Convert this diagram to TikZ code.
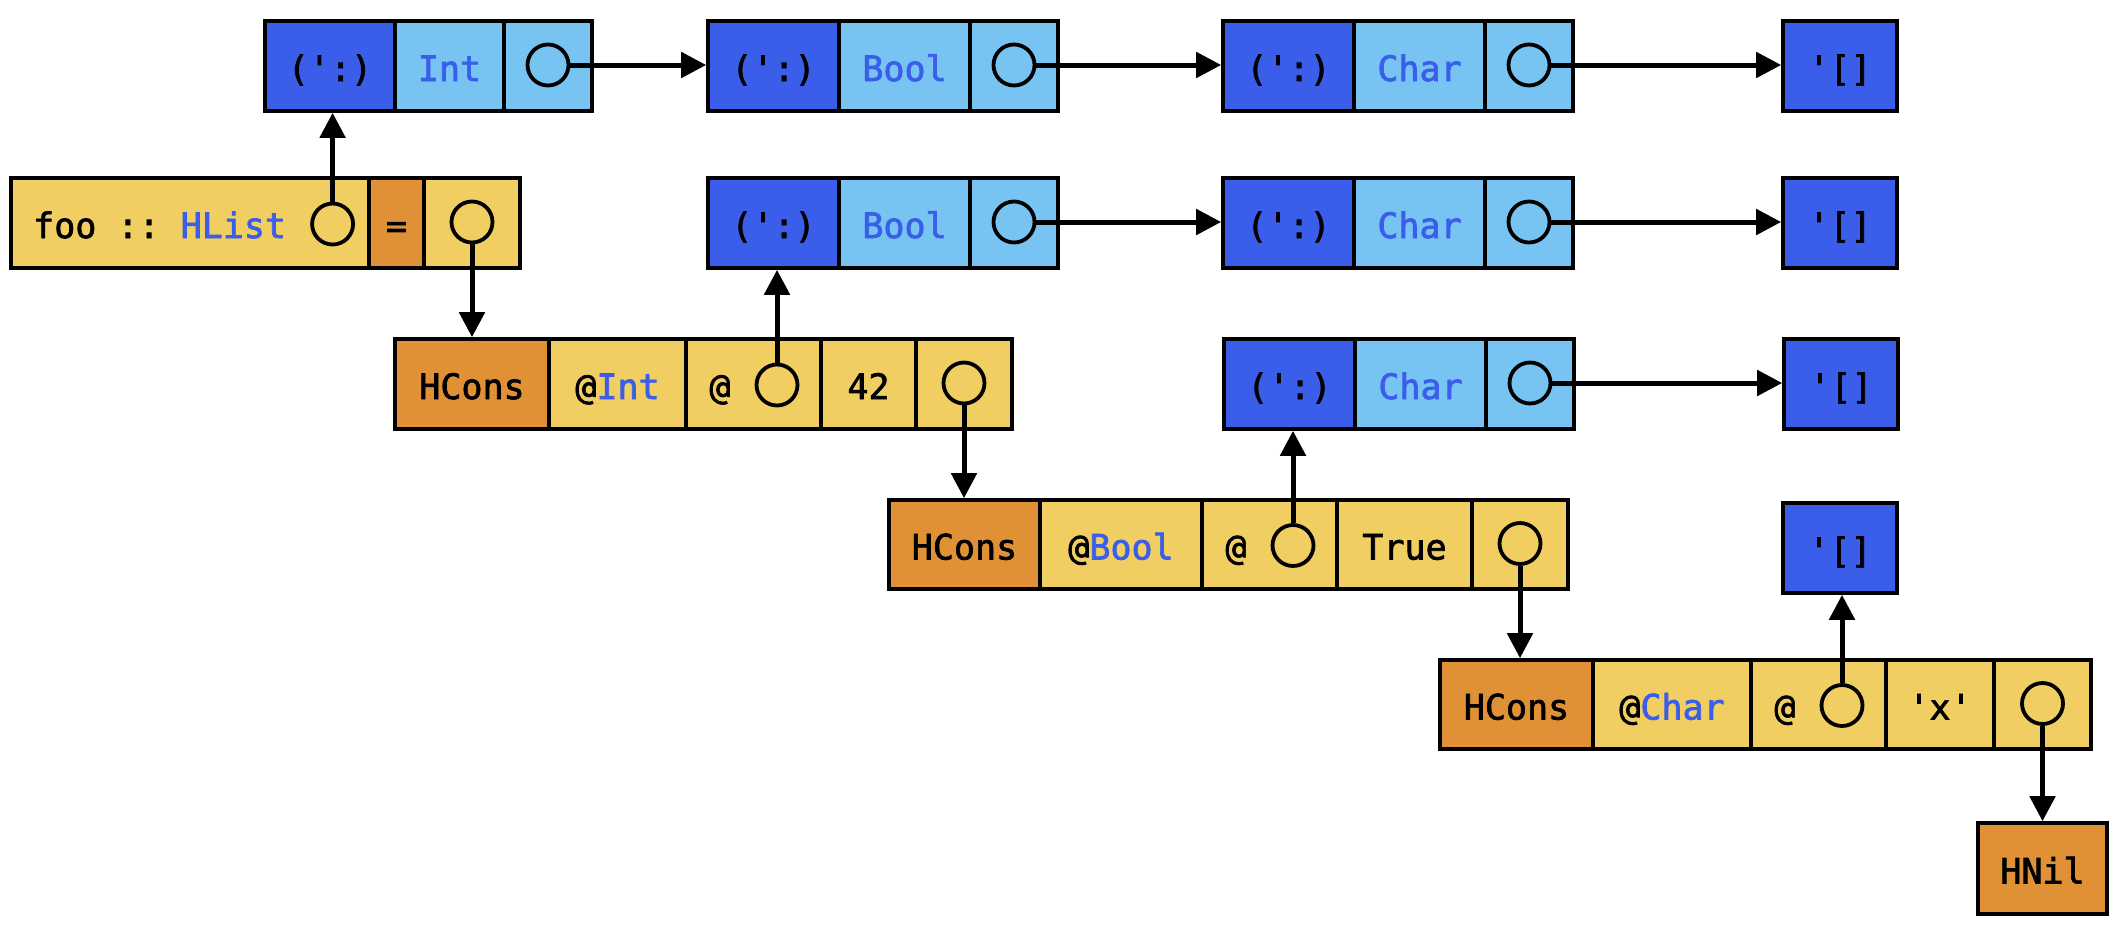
\documentclass[tikz,border=0pt]{standalone}
\usepackage{fontspec}
\setmonofont{DejaVu Sans Mono}[FakeBold=2]
\usetikzlibrary{arrows.meta}
\definecolor{dblue}{HTML}{3A5EE9}
\definecolor{lblue}{HTML}{77C3F2}
\definecolor{hyellow}{HTML}{F0CE62}
\definecolor{horange}{HTML}{E09135}
\definecolor{tblue}{HTML}{3A5EE9}
\tikzset{
  lbl/.style={inner sep=0pt, text height=30pt, text depth=0pt,
    font=\fontsize{35}{40}\selectfont\ttfamily},
  cell/.style={lbl, draw, line width=3.6pt, minimum height=90pt},
  ptr/.style={circle, draw, line width=3.8pt, minimum size=41pt, inner sep=0pt},
  link/.style={line width=5pt, -{Triangle[length=25pt,width=25pt]}},
  consA/.style={cell, fill=dblue, minimum width=131pt},
  consB/.style={cell, fill=lblue, minimum width=131pt, text=tblue},
  consC/.style={cell, fill=lblue, minimum width=88pt},
  nilbox/.style={cell, fill=dblue, minimum width=114pt},
  ycell/.style={cell, fill=hyellow},
  ocell/.style={cell, fill=horange}
}
\begin{document}
\begin{tikzpicture}[x=1pt,y=-1pt]
\useasboundingbox (0,0) rectangle (2122,930);
% ---------- row 1 ----------
\node[consA, minimum width=130pt] (a1) at (330,66) {(':)};
\node[consB, minimum width=109pt] (a2) at (449.5,66) {Int};
\node[consC] (a3) at (548,66) {};
\node[ptr] (a3p) at ([yshift=1pt]a3.center) {};
\node[consA] (b1) at (773.5,66) {(':)};
\node[consB] (b2) at (904.5,66) {Bool};
\node[consC] (b3) at (1014,66) {};
\node[ptr] (b3p) at ([yshift=1pt]b3.center) {};
\node[consA] (c1) at (1288.5,66) {(':)};
\node[consB] (c2) at (1419.5,66) {Char};
\node[consC] (c3) at (1529,66) {};
\node[ptr] (c3p) at ([yshift=1pt]c3.center) {};
\node[nilbox] (n1) at (1840,66) {'[]};
% ---------- row 2 ----------
\node[ycell, minimum width=358pt] (f1) at (190,223) {};
\node[lbl, anchor=west, text=black] (ftxt) at (33,223) {foo :: \textcolor{tblue}{HList}};
\node[ptr] (fp1) at (332.6,224) {};
\node[ocell, minimum width=55pt] (f2) at (396.5,223) {=};
\node[ycell, minimum width=96pt] (f3) at (472,223) {};
\node[ptr] (fp2) at ([yshift=1pt]f3.center) {};
\node[consA] (bb1) at (773.5,223) {(':)};
\node[consB] (bb2) at (904.5,223) {Bool};
\node[consC] (bb3) at (1014,223) {};
\node[ptr] (bb3p) at ([yshift=1pt]bb3.center) {};
\node[consA] (cc1) at (1288.5,223) {(':)};
\node[consB] (cc2) at (1419.5,223) {Char};
\node[consC] (cc3) at (1529,223) {};
\node[ptr] (cc3p) at ([yshift=1pt]cc3.center) {};
\node[nilbox] (n2) at (1840,223) {'[]};
% ---------- row 3 ----------
\node[ocell, minimum width=154pt] (h1) at (472,384) {HCons};
\node[ycell, minimum width=137pt] (h2) at (617.5,384) {@\textcolor{tblue}{Int}};
\node[ycell, minimum width=135pt] (h3) at (753.5,384) {};
\node[lbl] (h3at) at (720,384) {@};
\node[ptr] (hp3) at (777,385) {};
\node[ycell, minimum width=95pt] (h4) at (868.5,384) {42};
\node[ycell, minimum width=96pt] (h5) at (964,384) {};
\node[ptr] (hp5) at ([yshift=1pt]h5.center) {};
\node[consA] (ccc1) at (1289.5,384) {(':)};
\node[consB] (ccc2) at (1420.5,384) {Char};
\node[consC] (ccc3) at (1530,384) {};
\node[ptr] (ccc3p) at ([yshift=1pt]ccc3.center) {};
\node[nilbox] (n3) at (1841,384) {'[]};
% ---------- row 4 ----------
\node[ocell, minimum width=151pt, minimum height=89pt] (g1) at (964.5,544.5) {HCons};
\node[ycell, minimum width=162pt, minimum height=89pt] (g2) at (1121,544.5) {@\textcolor{tblue}{Bool}};
\node[ycell, minimum width=135pt, minimum height=89pt] (g3) at (1269.5,544.5) {};
\node[lbl] (g3at) at (1236,544.5) {@};
\node[ptr] (gp3) at (1293,545.5) {};
\node[ycell, minimum width=135pt, minimum height=89pt] (g4) at (1404.5,544.5) {True};
\node[ycell, minimum width=96pt, minimum height=89pt] (g5) at (1520,544.5) {};
\node[ptr] (gp5) at ([yshift=1pt]g5.center) {};
\node[nilbox] (n4) at (1840,548) {'[]};
% ---------- row 5 ----------
\node[ocell, minimum width=153pt, minimum height=89pt] (k1) at (1516.5,704.5) {HCons};
\node[ycell, minimum width=158pt, minimum height=89pt] (k2) at (1672,704.5) {@\textcolor{tblue}{Char}};
\node[ycell, minimum width=135pt, minimum height=89pt] (k3) at (1818.5,704.5) {};
\node[lbl] (k3at) at (1785,704.5) {@};
\node[ptr] (kp3) at (1842,705.5) {};
\node[ycell, minimum width=108pt, minimum height=89pt] (k4) at (1940,704.5) {'x'};
\node[ycell, minimum width=97pt, minimum height=89pt] (k5) at (2042.5,704.5) {};
\node[ptr] (kp5) at ([yshift=1pt]k5.center) {};
\node[ocell, minimum width=129pt, minimum height=91pt] (hnil) at (2042.5,868.5) {HNil};
% ---------- connectors ----------
\draw[link] (fp1.north) -- (fp1.north |- a1.south);
\draw[link] (fp2.south) -- (fp2.south |- h1.north);
\draw[link] (a3p.east) -- (a3p.east -| b1.west);
\draw[link] (b3p.east) -- (b3p.east -| c1.west);
\draw[link] (c3p.east) -- (c3p.east -| n1.west);
\draw[link] (bb3p.east) -- (bb3p.east -| cc1.west);
\draw[link] (cc3p.east) -- (cc3p.east -| n2.west);
\draw[link] (hp3.north) -- (hp3.north |- bb1.south);
\draw[link] (hp5.south) -- (hp5.south |- g1.north);
\draw[link] (gp3.north) -- (gp3.north |- ccc1.south);
\draw[link] (ccc3p.east) -- (ccc3p.east -| n3.west);
\draw[link] (gp5.south) -- (gp5.south |- k1.north);
\draw[link] (kp3.north) -- (kp3.north |- n4.south);
\draw[link] (kp5.south) -- (kp5.south |- hnil.north);
\end{tikzpicture}
\end{document}
